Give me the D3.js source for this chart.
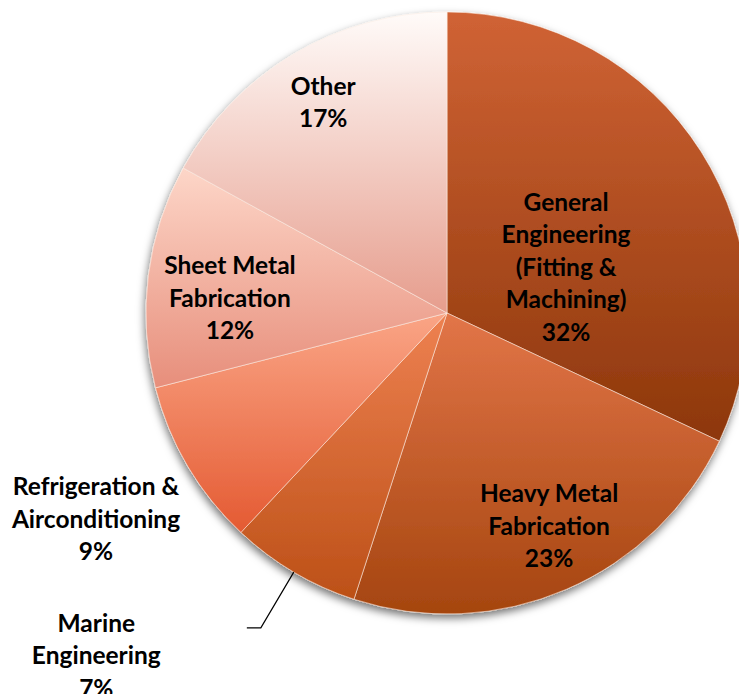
<!DOCTYPE html>
<html>
<head>
<meta charset="utf-8">
<script src="https://cdn.jsdelivr.net/npm/d3@7"></script>
<style>
  html, body { margin: 0; padding: 0; background: #ffffff; overflow: hidden; }
  svg { display: block; }
</style>
</head>
<body>
<svg id="chart" width="739" height="694"></svg>
<script>
// Trade share of the workforce, clockwise from twelve o'clock
const categories = [
  "General Engineering (Fitting & Machining)",
  "Heavy Metal Fabrication",
  "Marine Engineering",
  "Refrigeration & Airconditioning",
  "Sheet Metal Fabrication",
  "Other"
];
const values = [32, 23, 7, 9, 12, 17];
const labelLines = [
  ["General", "Engineering", "(Fitting &", "Machining)"],
  ["Heavy Metal", "Fabrication"],
  ["Marine", "Engineering"],
  ["Refrigeration &", "Airconditioning"],
  ["Sheet Metal", "Fabrication"],
  ["Other"]
];

// Per-slice vertical gradient (top colour, bottom colour)
const sliceTop    = ["#d06335", "#e27548", "#ee8151", "#faa586", "#fdd6c8", "#fffbf9"];
const sliceBottom = ["#8d370b", "#a5450f", "#bc5017", "#e45a32", "#e78e7b", "#e69d8d"];

// Label placement: radius as a fraction of the pie radius, angle shift (deg) from slice middle
const labelRadius = [0.424, 0.785, 1.628, 1.352, 0.723, 0.813];
const labelShift  = [11.3, -2.2, 15.1, 0.2, -3.2, 0.2];
const outsideWithLeader = [false, false, true, false, false, false];

const width = 739, height = 694;
const cx = 447, cy = 313, radius = 301;
const fontSize = 24.5, lineHeight = 32.5;

const svg = d3.select("#chart");
const defs = svg.append("defs");

const shadow = defs.append("filter")
  .attr("id", "pieShadow")
  .attr("x", "-20%").attr("y", "-20%")
  .attr("width", "140%").attr("height", "140%");
shadow.append("feDropShadow")
  .attr("dx", -1).attr("dy", 4)
  .attr("stdDeviation", 4)
  .attr("flood-color", "#000")
  .attr("flood-opacity", 0.55);

categories.forEach((c, i) => {
  const g = defs.append("linearGradient")
    .attr("id", "slice" + i)
    .attr("x1", 0).attr("y1", 0).attr("x2", 0).attr("y2", 1);
  g.append("stop").attr("offset", "0%").attr("stop-color", sliceTop[i]);
  g.append("stop").attr("offset", "100%").attr("stop-color", sliceBottom[i]);
});

const data = categories.map((c, i) => ({ category: c, value: values[i], index: i }));

const pie = d3.pie()
  .value(d => d.value)
  .sort(null)
  .startAngle(0)
  .endAngle(2 * Math.PI);

const arcs = pie(data);
const arc = d3.arc().innerRadius(0).outerRadius(radius);

const root = svg.append("g").attr("transform", `translate(${cx},${cy})`);

root.append("g")
  .attr("filter", "url(#pieShadow)")
  .selectAll("path")
  .data(arcs)
  .join("path")
  .attr("d", arc)
  .attr("fill", d => `url(#slice${d.data.index})`)
  .attr("stroke", "rgba(255,240,232,0.55)")
  .attr("stroke-width", 1);

function polar(r, a) {
  return [r * Math.sin(a), -r * Math.cos(a)];
}

const total = d3.sum(values);
const fmt = v => Math.round(v / total * 100) + "%";

// Leader line for the slice labelled outside
arcs.forEach(d => {
  const i = d.data.index;
  if (!outsideWithLeader[i]) return;
  const mid = (d.startAngle + d.endAngle) / 2;
  const p0 = polar(radius, mid);
  const p1 = polar(radius * 1.215, mid);
  const p2 = [p1[0] - 14, p1[1]];
  root.append("path")
    .attr("d", d3.line()([p0, p1, p2]))
    .attr("fill", "none")
    .attr("stroke", "#000")
    .attr("stroke-width", 1.2);
});

// Category + percentage labels
arcs.forEach(d => {
  const i = d.data.index;
  const mid = (d.startAngle + d.endAngle) / 2 + labelShift[i] * Math.PI / 180;
  const [lx, ly] = polar(radius * labelRadius[i], mid);
  const lines = labelLines[i].concat([fmt(d.data.value)]);
  const top = ly - (lines.length - 1) * lineHeight / 2;
  const t = root.append("text")
    .attr("text-anchor", "middle")
    .attr("font-family", "Lato, 'Open Sans', sans-serif")
    .attr("font-weight", 700)
    .attr("font-size", fontSize)
    .attr("fill", "#000");
  lines.forEach((s, k) => {
    t.append("tspan")
      .attr("x", lx)
      .attr("y", top + k * lineHeight)
      .attr("dy", "0.36em")
      .text(s);
  });
});
</script>
</body>
</html>
